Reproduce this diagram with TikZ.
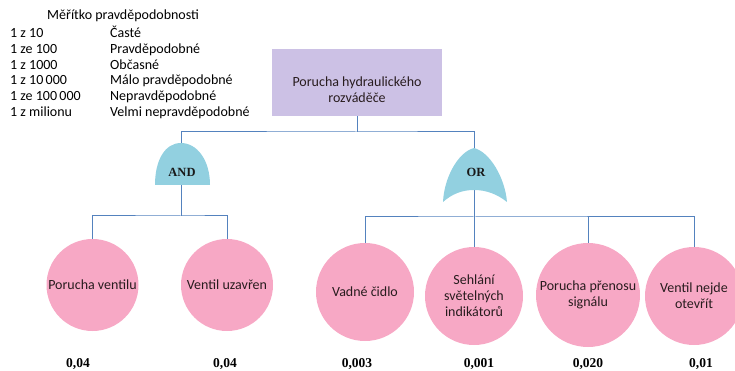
\documentclass[tikz,border=0pt]{standalone}
\usepackage{fontspec}
\setmainfont{Carlito}
\newfontfamily\numfont{Liberation Serif}
\definecolor{wireblue}{RGB}{84,130,190}
\definecolor{boxlilac}{RGB}{204,193,229}
\definecolor{gatecyan}{RGB}{146,208,224}
\definecolor{eventpink}{RGB}{247,168,197}
\definecolor{inktext}{RGB}{40,28,30}
\begin{document}
\begin{tikzpicture}[x=1pt,y=-1pt,
  wire/.style={draw=wireblue,line width=1pt},
  topbox/.style={draw=none,fill=boxlilac,minimum width=170pt,minimum height=67pt,inner sep=0pt},
  event/.style={circle,fill=eventpink,draw=none,inner sep=0pt,align=center,
    font=\fontsize{14}{16}\selectfont,text=inktext},
  gatefill/.style={fill=gatecyan,draw=none},
  gatelabel/.style={font=\numfont\bfseries\fontsize{12.5}{14}\selectfont,text=black!90},
  prob/.style={font=\numfont\bfseries\fontsize{13.5}{15}\selectfont,anchor=base},
  legend/.style={font=\fontsize{14}{16}\selectfont,anchor=base west,inner sep=0pt}]
\useasboundingbox (0,0) rectangle (735,371);

% scale of likelihood
\node[legend] (lgtitle) at (47,19.5) {Měřítko pravděpodobnosti};
\foreach \n/\ratio/\word [count=\i from 0] in
  {r1/1 z 10/Časté, r2/1 ze 100/Pravděpodobné, r3/1 z 1000/Občasné,
   r4/1 z 10\,000/Málo pravděpodobné, r5/1 ze 100\,000/Nepravděpodobné,
   r6/1 z milionu/Velmi nepravděpodobné}{
  \node[legend] (\n a) at (10,37.5+15.8*\i) {\ratio};
  \node[legend] (\n b) at (110,37.5+15.8*\i) {\word};
}

% top event
\node[topbox] (top) at (357,82.5) {};
\node[align=center,font=\fontsize{14}{16}\selectfont,text=inktext] (toplabel) at (357,89.5)
  {Porucha hydraulického\\rozváděče};

% gate anchor points
\coordinate (andtop) at (181,143);
\coordinate (andbot) at (181,185);
\coordinate (ortop) at (474,148);
\coordinate (orbot) at (474,190);
\coordinate (bus) at (357,132);
\coordinate (andbus) at (181,216);
\coordinate (orbus) at (474,217);

% basic events
\node[event,minimum size=92pt] (e1) at (92.5,285) {Porucha ventilu};
\node[event,minimum size=92pt] (e2) at (227,285) {Ventil uzavřen};
\node[event,minimum size=98pt] (e3) at (365,292) {Vadné čidlo};
\node[event,minimum size=98pt] (e4) at (474,296) {Sehlání\\světelných\\indikátorů};
\node[event,minimum size=104pt] (e5) at (588,295) {Porucha přenosu\\signálu};
\node[event,minimum size=98pt] (e6) at (694,296) {Ventil nejde\\otevřít};

% connectors
\draw[wire] (top.south) -- (bus);
\draw[wire] (andtop) |- (bus) -| (ortop);
\draw[wire] (andbot) -- (andbus);
\draw[wire] (e1.north) |- (andbus) -| (e2.north);
\draw[wire] (ortop) -- (orbus);
\draw[wire] (e3.north) |- (orbus) -| (e6.north);
\draw[wire] (e4.north) -- (e4.north |- orbus);
\draw[wire] (e5.north) -- (e5.north |- orbus);

% AND gate
\fill[gatefill] (155,185) .. controls (155,160) and (165,143) .. (181,143)
  .. controls (197,143) and (210,160) .. (210,185) -- cycle;
\node[gatelabel] (andlabel) at (182,172) {AND};

% OR gate
\fill[gatefill] (443,202) .. controls (444,178) and (458,152) .. (474,148)
  .. controls (490,152) and (505,178) .. (507,202)
  .. controls (497,194) and (486,190) .. (474,190)
  .. controls (462,190) and (452,194) .. (443,202) -- cycle;
\node[gatelabel] (orlabel) at (476,172) {OR};

% probabilities
\node[prob] (p1) at (78,367) {0,04};
\node[prob] (p2) at (225,367) {0,04};
\node[prob] (p3) at (357,367) {0,003};
\node[prob] (p4) at (479,367) {0,001};
\node[prob] (p5) at (588,367) {0,020};
\node[prob] (p6) at (701,367) {0,01};
\end{tikzpicture}
\end{document}
